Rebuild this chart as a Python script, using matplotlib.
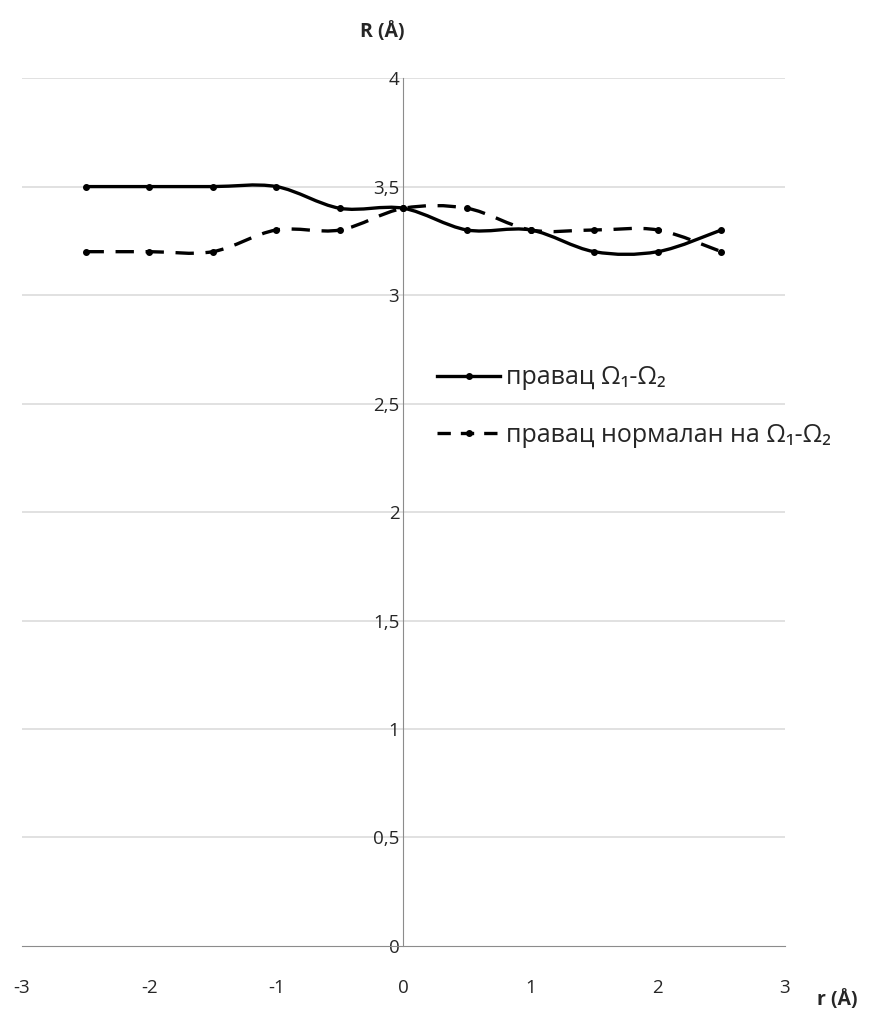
import numpy as np
import matplotlib.pyplot as plt
from matplotlib.path import Path
from matplotlib.patches import PathPatch

# data
r = [-2.5, -2, -1.5, -1, -0.5, 0, 0.5, 1, 1.5, 2, 2.5]
R_pravac = [3.5, 3.5, 3.5, 3.5, 3.4, 3.4, 3.3, 3.3, 3.2, 3.2, 3.3]
R_normala = [3.2, 3.2, 3.2, 3.3, 3.3, 3.4, 3.4, 3.3, 3.3, 3.3, 3.2]
yticks = [0, 0.5, 1, 1.5, 2, 2.5, 3, 3.5, 4]
ytick_labels = ['0', '0,5', '1', '1,5', '2', '2,5', '3', '3,5', '4']
xticks = [-3, -2, -1, 0, 1, 2, 3]

plt.rcParams['font.family'] = ['Open Sans', 'DejaVu Sans']
plt.rcParams['axes.unicode_minus'] = False
txt = '#262626'


def smooth_path(x, y):
    # Excel-like smoothed line: cubic bezier segments through the points
    p = np.column_stack([x, y]).astype(float)
    n = len(p)
    verts = [p[0]]
    codes = [Path.MOVETO]
    for i in range(n - 1):
        p0 = p[i - 1] if i > 0 else p[i]
        p3 = p[i + 2] if i + 2 < n else p[i + 1]
        c1 = p[i] + (p[i + 1] - p0) / 6.0
        c2 = p[i + 1] - (p3 - p[i]) / 6.0
        verts += [c1, c2, p[i + 1]]
        codes += [Path.CURVE4] * 3
    return Path(verts, codes)


fig = plt.figure(figsize=(8.79, 10.21), dpi=100)
ax = fig.add_axes([0.025, 0.0735, 0.868, 0.850])

ax.set_xlim(-3, 3)
ax.set_ylim(0, 4)

for yt in yticks[1:]:
    ax.axhline(yt, color='#d9d9d9', lw=1.1, zorder=0)

# solid series
ax.add_patch(PathPatch(smooth_path(r, R_pravac), fill=False, color='black',
                       lw=2.4, capstyle='round', zorder=3))
ax.plot(r, R_pravac, ls='none', marker='o', ms=4, color='black', zorder=4)

# dashed series
ax.add_patch(PathPatch(smooth_path(r, R_normala), fill=False, color='black',
                       lw=2.4, linestyle=(0, (5.5, 3.5)), zorder=3))
ax.plot(r, R_normala, ls='none', marker='o', ms=4, color='black', zorder=4)

# legend proxies
ax.plot([], [], color='black', lw=2.4, marker='o', ms=4,
        label='правац Ω₁-Ω₂')
ax.plot([], [], color='black', lw=2.4, marker='o', ms=4,
        linestyle=(0, (4, 3)), label='правац нормалан на Ω₁-Ω₂')
leg = ax.legend(loc='upper left', bbox_to_anchor=(0.515, 0.695),
                frameon=False, fontsize=18, handlelength=2.5,
                handletextpad=0.25, labelspacing=1.3, labelcolor=txt)

ax.spines['left'].set_position(('data', 0))
ax.spines['left'].set_color('#8c8c8c')
ax.spines['bottom'].set_color('#8c8c8c')
ax.spines['right'].set_visible(False)
ax.spines['top'].set_visible(False)

ax.set_yticks(yticks)
ax.set_yticklabels(ytick_labels)
ax.set_xticks(xticks)
ax.tick_params(axis='y', length=0, pad=3, labelsize=13.5, labelcolor=txt)
ax.tick_params(axis='x', length=0, pad=24, labelsize=13.5, labelcolor=txt)

fig.text(0.435, 0.969, 'R (Å)', fontsize=14, fontweight='bold',
         color=txt, ha='center', va='center')
fig.text(0.952, 0.021, 'r (Å)', fontsize=14, fontweight='bold',
         color=txt, ha='center', va='center')

fig.savefig('out.png', dpi=100)
